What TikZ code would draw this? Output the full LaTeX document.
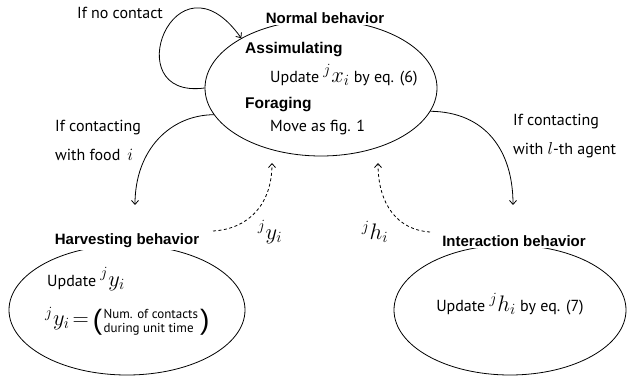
\documentclass[tikz,border=0pt]{standalone}
\usepackage{fontspec}
\usepackage{amsmath}
\setmainfont{PT Sans}
\newfontfamily\headfont{Liberation Sans}
\usetikzlibrary{shapes.geometric,arrows.meta}

\tikzset{
  state/.style={draw, ellipse, line width=0.8pt, inner sep=0pt},
  statetitle/.style={fill=white, inner sep=1.5pt, font=\headfont\bfseries\fontsize{15}{17}\selectfont},
  body/.style={inner sep=0pt, font=\fontsize{16}{18}\selectfont},
  sub/.style={inner sep=0pt, font=\headfont\bfseries\fontsize{15.5}{17}\selectfont},
  trans/.style={line width=0.8pt, -{Straight Barb[length=4pt,width=7pt]}},
  feedback/.style={line width=0.8pt, dashed, dash pattern=on 3pt off 2.5pt, -{Straight Barb[length=4pt,width=7pt]}},
}
% large math set at 17pt and enlarged
\newcommand{\varmath}[1]{{\fontsize{17}{19}\selectfont\scalebox{1.3}{$#1$}}}
% tall round bracket from a thin sans font
\newcommand{\tallparen}[1]{\raisebox{-4pt}{\headfont\fontsize{28}{28}\selectfont #1}}

\begin{document}
\begin{tikzpicture}[x=1pt,y=-1pt]
\useasboundingbox (0,0) rectangle (629,382);

% the three behaviours
\node[state, minimum width=232pt, minimum height=136pt] (normal) at (321,88) {};
\node[state, minimum width=236pt, minimum height=130pt] (harvest) at (127,310) {};
\node[state, minimum width=232pt, minimum height=130pt] (interact) at (510,310) {};

\node[statetitle] (ntitle) at (325,18) {Normal behavior};
\node[statetitle] (htitle) at (127,241) {Harvesting behavior};
\node[statetitle] (ititle) at (514,241) {Interaction behavior};

% contents of the normal behaviour
\node[sub, anchor=west] (assim) at (245,50) {Assimulating};
\node[body, anchor=west] (assimtxt) at (270,75) {Update \varmath{{}^j x_i} by eq. (6)};
\node[sub, anchor=west] (forage) at (245,105) {Foraging};
\node[body, anchor=west] (foragetxt) at (270,128) {Move as fig. 1};

% contents of the harvesting behaviour
\node[body, anchor=west] (hupd) at (47,279) {Update \varmath{{}^j y_i}};
\node[body, anchor=west] (heq) at (45,322) {\varmath{{}^j y_i}\hspace{3pt}\varmath{=}\hspace{4pt}\tallparen{(}\hspace{1.5pt}%
  {\fontsize{13}{14.5}\selectfont\begin{tabular}{@{}l@{}}Num. of contacts\\during unit time\end{tabular}}%
  \hspace{2pt}\tallparen{)}};

% contents of the interaction behaviour
\node[body] (iupd) at (510,304) {Update \varmath{{}^j h_i} by eq. (7)};

% transitions
\draw[trans] (normal.west) .. controls (115,100) and (175,-55) .. (normal.148);
\node[body] (lnocontact) at (120,13) {If no contact};

\coordinate (hin) at (135,205);
\draw[trans] (normal.194) .. controls (170,115) and (135,150) .. (hin);
\node[body, anchor=west] (lfood1) at (55,128) {If contacting};
\node[body, anchor=west] (lfood2) at (55,155) {with food \,$i$};

\coordinate (iin) at (513,205);
\draw[trans] (normal.-12) .. controls (485,112) and (513,150) .. (iin);
\node[body, anchor=west] (lagent1) at (513,122) {If contacting};
\node[body, anchor=west] (lagent2) at (513,150) {with $l$-th agent};

% feedback to the normal behaviour
\coordinate (hout) at (213,231);
\coordinate (hback) at (272,163);
\draw[feedback] (hout) .. controls (248,229) and (272,205) .. (hback);
\node[body] (ly) at (270,232) {\varmath{{}^j y_i}};

\coordinate (iout) at (430,232);
\coordinate (iback) at (378,163);
\draw[feedback] (iout) .. controls (398,230) and (378,205) .. (iback);
\node[body] (lh) at (375,232) {\varmath{{}^j h_i}};
\end{tikzpicture}
\end{document}
